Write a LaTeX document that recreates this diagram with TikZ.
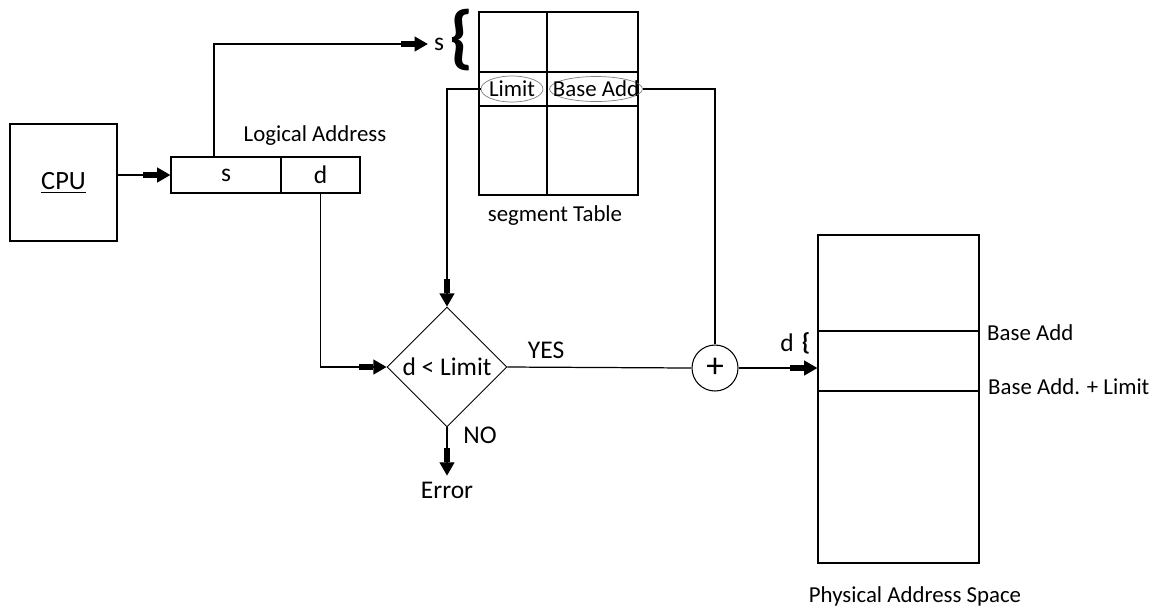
\documentclass[tikz,border=0pt]{standalone}
\usepackage{fontspec}
\setmainfont{Carlito}
\usetikzlibrary{arrows.meta,shapes.geometric,positioning}
\tikzset{
  fatarrow/.style={line width=0.7pt,-{Rectangle[length=8pt,width=3.5pt]Triangle[length=7.5pt,width=8.5pt]}},
  wire/.style={line width=0.7pt},
  cell/.style={draw,line width=0.8pt,inner sep=0pt},
  tag/.style={draw=gray,ellipse,line width=0.4pt,inner sep=0pt},
  big/.style={font=\fontsize{14.5}{16}\selectfont}
}
\begin{document}
\begin{tikzpicture}[x=0.02cm,y=-0.02cm,font=\fontsize{13}{15}\selectfont]
\useasboundingbox (0,0) rectangle (1151,610);

% Draw CPU and logical address
\node[cell,minimum width=2.14cm,minimum height=2.34cm,font=\fontsize{15}{17}\selectfont] (cpu) at (63.5,182.5) {\underline{CPU}};
\node[cell,minimum width=2.2cm,minimum height=0.72cm,big] (sfield) at (226,175) {s\hspace{0.3cm}};
\node[cell,minimum width=1.58cm,minimum height=0.72cm,big] (dfield) at (320.5,175) {d};
\node at (315,136) {Logical Address};

% Draw segment table
\draw[line width=0.8pt] (479,12) rectangle (638,195);
\draw[line width=0.8pt] (547,12) -- (547,195);
\draw[line width=0.8pt] (479,72) -- (638,72);
\draw[line width=0.8pt] (479,106) -- (638,106);
\node[tag,minimum width=1.24cm,minimum height=0.52cm,label=center:Limit] (limit) at (512,89) {};
\node[tag,minimum width=1.86cm,minimum height=0.5cm,label=center:Base Add] (base) at (596,89) {};
\node[big] (sidx) at (439,44) {s};
\node[font=\fontsize{40}{40}\selectfont\bfseries] (sbrace) at (462,40) {\{};
\node at (555,216) {segment Table};

% Draw comparison and adder
\node[draw,diamond,aspect=1,minimum size=2.4cm,inner sep=0pt,line width=0.5pt,big] (cmp) at (447,367) {d < Limit};
\node[draw,circle,minimum size=0.92cm,inner sep=0pt,line width=0.6pt,font=\fontsize{20}{20}\selectfont] (add) at (715,368) {+};
\node[big] (err) at (447,490) {Error};

% Draw physical address space
\draw[line width=0.8pt] (818,235) rectangle (979,563);
\node[cell,minimum width=3.22cm,minimum height=1.2cm] (seg) at (898.5,361) {};
\node[anchor=west] at (981,333) {Base Add};
\node[anchor=west] at (982,387) {Base Add. + Limit};
\node[big] at (787,343) {d};
\node[font=\fontsize{14}{16}\selectfont\bfseries] at (806,343) {\{};
\node at (915,596) {Physical Address Space};

% Draw connectors
\draw[fatarrow] (sfield.west -| cpu.east) -- (sfield.west);
\draw[fatarrow] ([xshift=-0.24cm]sfield.north) |- (sidx.west);
\draw[fatarrow] (limit.west) -| (cmp.north);
\draw[wire] (base.east) -| (add.north);
\draw[fatarrow] (dfield.south) |- (cmp.west);
\draw[wire] (cmp.east) -- node[above=1pt,pos=0.21,big] {YES} (add.west);
\draw[fatarrow] (add.east) -- (add -| seg.west);
\draw[fatarrow] (cmp.south) -- (err.north);
\node[big] at (480,435) {NO};
\end{tikzpicture}
\end{document}
